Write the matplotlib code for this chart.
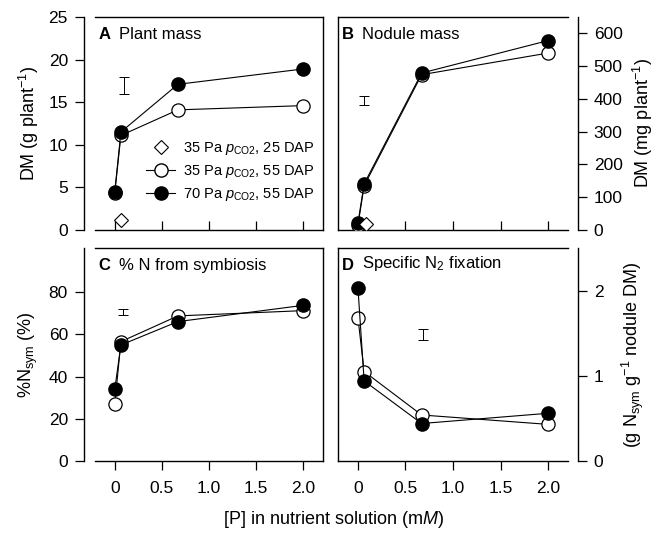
import numpy as np
import matplotlib.pyplot as plt

plt.rcParams['font.family'] = ['Liberation Sans', 'DejaVu Sans']
plt.rcParams['mathtext.fontset'] = 'custom'
plt.rcParams['mathtext.rm'] = 'Liberation Sans'
plt.rcParams['mathtext.it'] = 'Liberation Sans:italic'
plt.rcParams['mathtext.bf'] = 'Liberation Sans:bold'

# P-Konzentration in der Naehrloesung (mM)
p_konz = [0, 0.065, 0.67, 2.0]

# A: Pflanzenmasse (g plant-1)
masse_35 = [4.4, 11.1, 14.1, 14.6]
masse_70 = [4.5, 11.5, 17.1, 18.9]
masse_25dap_x = [0.07]
masse_25dap = [1.2]

# B: Knoellchenmasse (mg plant-1)
knoell_35 = [15, 135, 474, 540]
knoell_70 = [21, 141, 479, 578]
knoell_25dap_x = [0.08]
knoell_25dap = [18]

# C: %Nsym
nsym_35 = [27.0, 56.6, 68.8, 71.3]
nsym_70 = [34.1, 55.0, 66.1, 73.8]

# D: spezifische N2-Fixierung
fix_35 = [1.68, 1.05, 0.54, 0.43]
fix_70 = [2.03, 0.94, 0.44, 0.56]

# Fehlerbalken (x, Mitte, halbe Laenge)
fehler_x = [0.1, 0.065, 0.085, 0.68]
fehler_mitte = [16.95, 396, 70.6, 1.485]
fehler_halb = [0.95, 14, 1.4, 0.065]

titel = ["Plant mass", "Nodule mass", "% N from symbiosis", r"Specific N$_2$ fixation"]
buchstaben = ["A", "B", "C", "D"]

fig = plt.figure(figsize=(6.67, 5.35), dpi=100)
W, H = 667.0, 535.0
axA = fig.add_axes([95 / W, 1 - 230 / H, 228 / W, 213 / H])
axB = fig.add_axes([338 / W, 1 - 230 / H, 230 / W, 213 / H])
axC = fig.add_axes([95 / W, 1 - 461 / H, 228 / W, 213 / H])
axD = fig.add_axes([338 / W, 1 - 461 / H, 230 / W, 213 / H])
achsen = [axA, axB, axC, axD]

daten = [(masse_35, masse_70), (knoell_35, knoell_70), (nsym_35, nsym_70), (fix_35, fix_70)]

for i, ax in enumerate(achsen):
    offen, voll = daten[i]
    ax.plot(p_konz, offen, '-o', color='k', lw=0.8, ms=9.5, mfc='white', mec='k', mew=0.9, zorder=3)
    ax.plot(p_konz, voll, '-o', color='k', lw=0.8, ms=9.5, mfc='k', mec='k', zorder=4)
    ax.errorbar([fehler_x[i]], [fehler_mitte[i]], yerr=[fehler_halb[i]], fmt='none',
                ecolor='k', elinewidth=0.7, capsize=3.5, capthick=0.7)
    ax.set_xlim(-0.21, 2.21)
    ax.set_xticks([0, 0.5, 1.0, 1.5, 2.0])
    t = ax.text(0.015, 0.955, buchstaben[i], transform=ax.transAxes, fontsize=12,
                fontweight='bold', va='top', ha='left')
    ax.annotate(titel[i], xy=(1, 0), xycoords=t, xytext=(6, 0), textcoords='offset points',
                fontsize=12, va='bottom', ha='left')
    for s in ax.spines.values():
        s.set_linewidth(1.0)
    ax.tick_params(labelsize=12.5, width=0.9, length=6.5, pad=5)

# Diamanten (25 DAP)
axA.plot(masse_25dap_x, masse_25dap, 'D', ms=7, mfc='white', mec='k', mew=0.8, zorder=5)
axB.plot(knoell_25dap_x, knoell_25dap, 'D', ms=7, mfc='white', mec='k', mew=0.8, zorder=5)

# linke Spalte: y-Achse links abgesetzt, rechte Spalte: y-Achse rechts abgesetzt
for ax in [axA, axC]:
    ax.spines['left'].set_position(('outward', 8))
for ax in [axB, axD]:
    ax.yaxis.tick_right()
    ax.yaxis.set_label_position('right')
    ax.spines['right'].set_position(('outward', 7))

# obere Reihe: Striche nach innen, keine Beschriftung
for ax in [axA, axB]:
    ax.tick_params(axis='x', direction='in', labelbottom=False)

axA.set_ylim(0, 25)
axA.set_yticks([0, 5, 10, 15, 20, 25])
axB.set_ylim(0, 650)
axB.set_yticks([0, 100, 200, 300, 400, 500, 600])
axC.set_ylim(0, 101)
axC.set_yticks([0, 20, 40, 60, 80])
axD.set_ylim(0, 2.5)
axD.set_yticks([0, 1, 2])

for ax in [axC, axD]:
    ax.set_xticklabels(["0", "0.5", "1.0", "1.5", "2.0"])
    ax.tick_params(axis='x', pad=8)

axA.set_ylabel(r"DM (g plant$^{-1}$)", fontsize=13, labelpad=5)
axB.set_ylabel(r"DM (mg plant$^{-1}$)", fontsize=13, labelpad=6, rotation=90)
axC.set_ylabel(r"%N$_{\mathrm{sym}}$ (%)", fontsize=13, labelpad=6)
axD.set_ylabel(r"(g N$_{\mathrm{sym}}$ g$^{-1}$ nodule DM)", fontsize=13, labelpad=12, rotation=90)
fig.text(333 / W, 1 - 519 / H, r"[P] in nutrient solution (m$\mathit{M}$)", fontsize=13,
         ha='center', va='center')

# Legende in A
h1, = axA.plot([], [], 'D', ms=7, mfc='white', mec='k', mew=0.8, ls='none')
h2, = axA.plot([], [], '-o', color='k', lw=0.8, ms=9.5, mfc='white', mec='k')
h3, = axA.plot([], [], '-o', color='k', lw=0.8, ms=9.5, mfc='k', mec='k')
etiketten = [r"35 Pa $\mathit{p}_{\mathrm{CO2}}$, 25 DAP",
             r"35 Pa $\mathit{p}_{\mathrm{CO2}}$, 55 DAP",
             r"70 Pa $\mathit{p}_{\mathrm{CO2}}$, 55 DAP"]
axA.legend([h1, h2, h3], etiketten, loc='lower right', bbox_to_anchor=(1.0, 0.085),
           frameon=False, fontsize=10.5, handlelength=2.0, handletextpad=0.5,
           labelspacing=0.4, borderaxespad=0.2)

plt.savefig("out.png", dpi=100)
